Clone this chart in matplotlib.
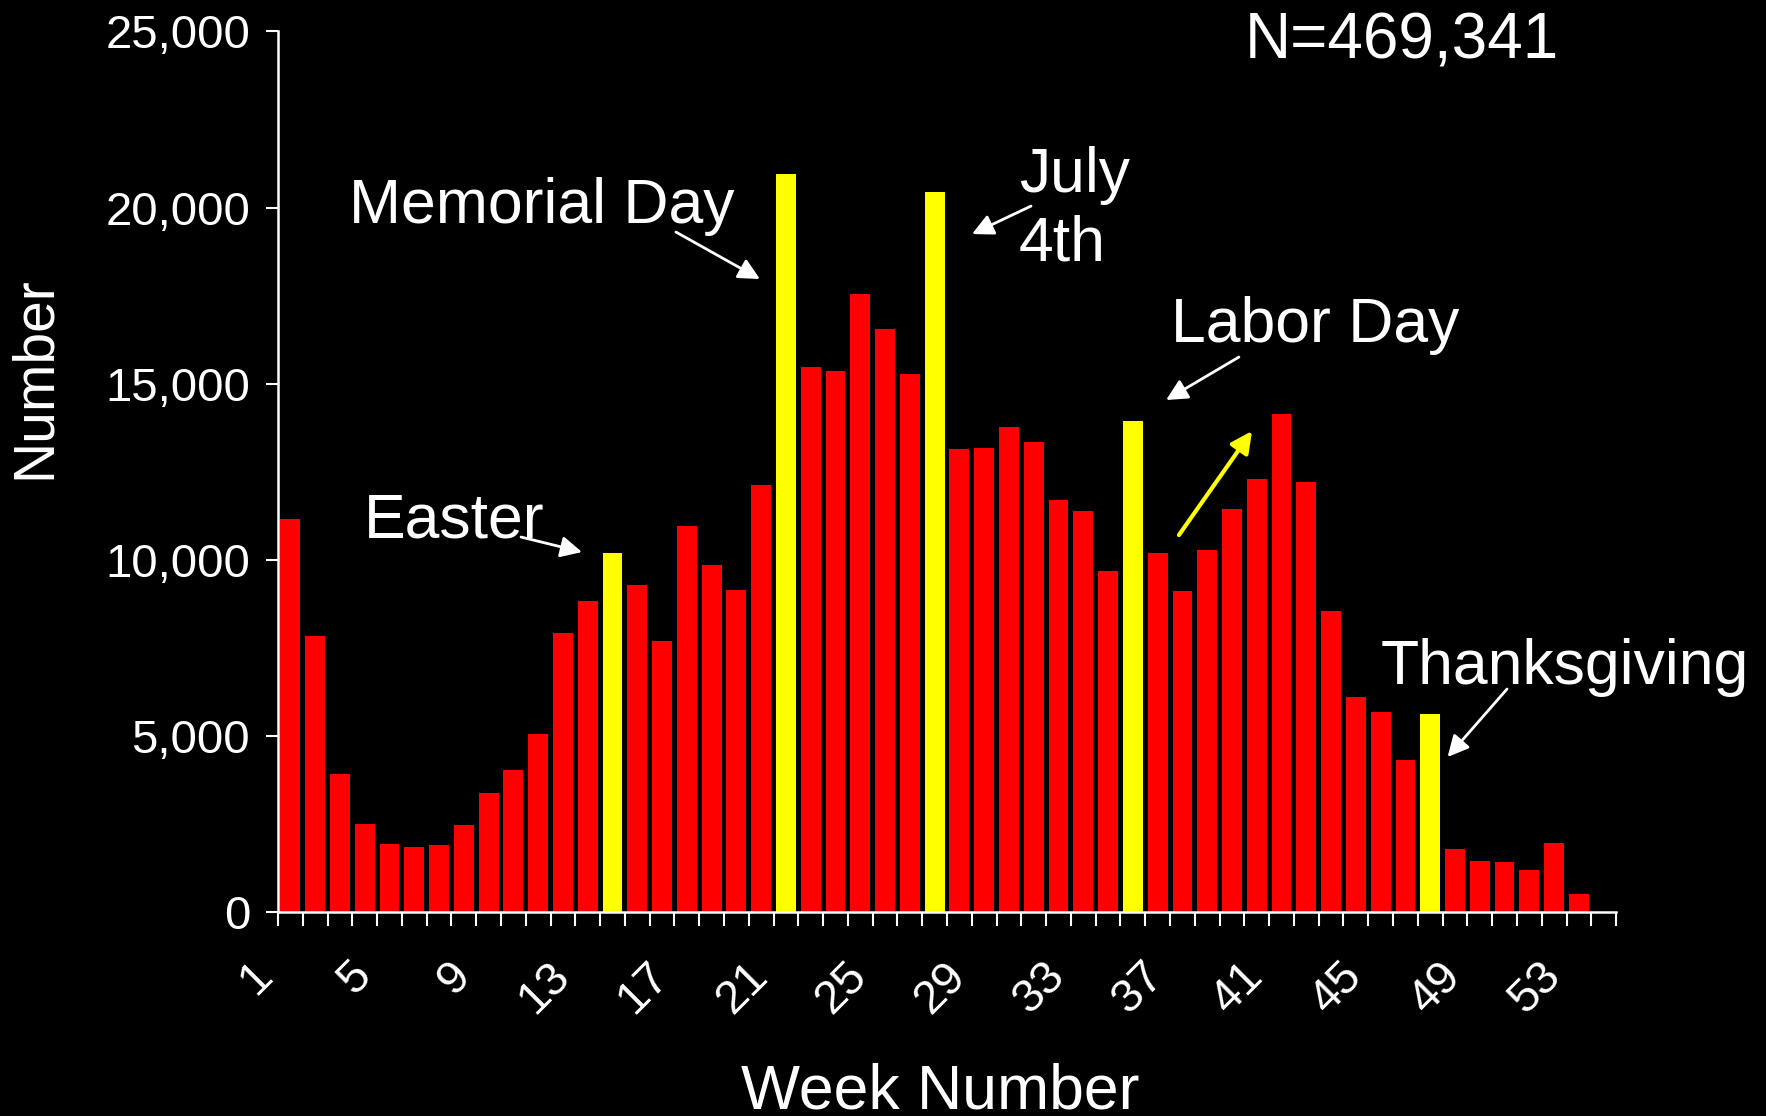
import matplotlib
matplotlib.use("Agg")
import matplotlib.pyplot as plt
from matplotlib.transforms import ScaledTranslation
from matplotlib.ticker import FuncFormatter

plt.rcParams['font.family'] = ['Liberation Sans', 'DejaVu Sans']

# ---- data ----
weeks = list(range(1, 54))
counts = [11150, 7850, 3930, 2490, 1920, 1850, 1900, 2460, 3390, 4030,
          5050, 7930, 8820, 10200, 9270, 7700, 10970, 9850, 9140, 12120,
          20940, 15470, 15350, 17550, 16560, 15280, 20430, 13140, 13170, 13780,
          13330, 11700, 11380, 9690, 13940, 10200, 9110, 10290, 11450, 12280,
          14130, 12210, 8540, 6110, 5690, 4320, 5630, 1790, 1440, 1410,
          1180, 1950, 510]
holiday_weeks = [14, 21, 27, 35, 47]
n_slots = 54
xtick_labels = [str(w) for w in range(1, 54, 4)]
yticks = [0, 5000, 10000, 15000, 20000, 25000]
total_label = "N=469,341"

RED = '#FF0000'
YELLOW = '#FFFF00'
colors = [YELLOW if w in holiday_weeks else RED for w in weeks]

fig = plt.figure(figsize=(17.66, 11.16), dpi=100, facecolor='black')
ax = fig.add_axes([0.1574, 0.1828, 0.7577, 0.789])
ax.set_facecolor('black')

ax.bar(weeks, counts, width=0.8, color=colors, edgecolor='none')

ax.set_xlim(0.5, n_slots + 0.5)
ax.set_ylim(0, 25000)

for s in ['top', 'right']:
    ax.spines[s].set_visible(False)
for s in ['left', 'bottom']:
    ax.spines[s].set_color('white')
    ax.spines[s].set_linewidth(1.8)

ax.set_yticks(yticks)
ax.yaxis.set_major_formatter(FuncFormatter(lambda v, p: f"{int(v):,}"))
ax.tick_params(axis='y', colors='white', labelsize=34, length=9, width=1.5, pad=11)

# x: major ticks at boundaries, labels on minor ticks
ax.set_xticks([i + 0.5 for i in range(0, n_slots + 1)])
ax.set_xticklabels([])
ax.tick_params(axis='x', which='major', colors='white', length=10, width=1.5)
ax.set_xticks(list(range(1, 54, 4)), minor=True)
ax.set_xticklabels(xtick_labels, minor=True, rotation=45, ha='right', va='center',
                   rotation_mode='anchor')
ax.tick_params(axis='x', which='minor', colors='white', labelsize=34, length=0, pad=41)
off = ScaledTranslation(-0.25, 0, fig.dpi_scale_trans)
for lab in ax.get_xticklabels(minor=True):
    lab.set_transform(lab.get_transform() + off)

ax.set_ylabel('Number', color='white', fontsize=41, va='center')
ax.yaxis.set_label_coords(-0.182, 0.607)
fig.text(940 / 1766, 0.007, 'Week Number', color='white', fontsize=45,
         ha='center', va='baseline')

tkw = dict(color='white', fontsize=45, ha='left', va='baseline')
ax.text(39.5, 24228, total_label, color='white', fontsize=46, ha='left', va='baseline')
ax.text(3.37, 19561, 'Memorial Day', **tkw)
ax.text(3.97, 10646, 'Easter', **tkw)
ax.text(30.4, 21747, 'July\n4th', color='white', fontsize=45, ha='left', va='top',
        linespacing=1.2)
ax.text(36.54, 16182, 'Labor Day', **tkw)
ax.text(45.0, 6473, 'Thanksgiving', **tkw)

ap = dict(arrowstyle='-|>', color='white', lw=2, mutation_scale=32,
          shrinkA=0, shrinkB=0)
ax.annotate('', xy=(19.95, 17971), xytext=(16.56, 19306), arrowprops=ap)
ax.annotate('', xy=(28.51, 19248), xytext=(30.89, 20043), arrowprops=ap)
ax.annotate('', xy=(36.34, 14536), xytext=(39.28, 15756), arrowprops=ap)
ax.annotate('', xy=(12.77, 10220), xytext=(10.31, 10646), arrowprops=ap)
ax.annotate('', xy=(47.7, 4400), xytext=(50.1, 6331), arrowprops=ap)
apy = dict(ap, color=YELLOW, lw=3)
ax.annotate('', xy=(39.81, 13656), xytext=(36.86, 10703), arrowprops=apy)

fig.savefig('out.png', dpi=100, facecolor='black')
